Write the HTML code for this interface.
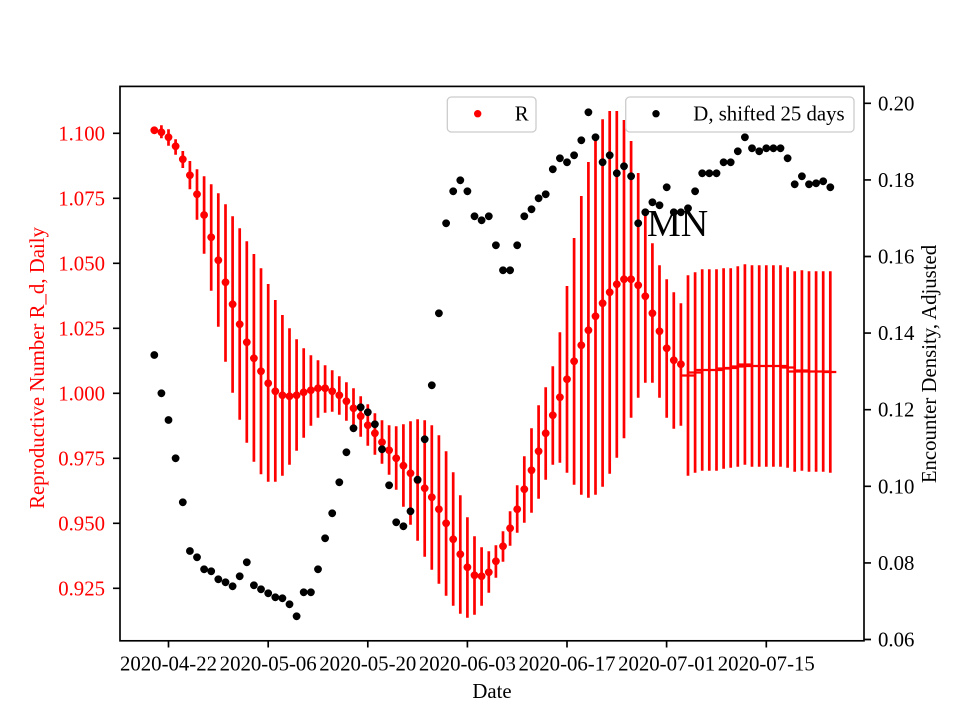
<!DOCTYPE html>
<html>
<head>
<meta charset="utf-8">
<style>
  html, body { margin: 0; padding: 0; background: #ffffff; }
  svg { display: block; }
  text { font-family: "Liberation Serif", "Times New Roman", serif; }
</style>
</head>
<body>
<svg width="960" height="720" viewBox="0 0 960 720" xmlns="http://www.w3.org/2000/svg">
  <rect x="0" y="0" width="960" height="720" fill="#ffffff"/>

  <path fill="none" stroke="#ff0000" stroke-width="2.7" d="M154.3 129V131.6 M161.4 125.3V138.3 M168.5 129.3V145.7 M175.6 139.3V154.7 M182.8 151V168 M189.9 161V189.3 M197 169.3V219.7 M204.1 176.3V253.7 M211.2 184.3V290.7 M218.3 193.3V326.7 M225.5 204.3V361.7 M232.6 216.3V392.7 M239.7 228.3V419.7 M246.8 241.3V442.7 M253.9 254V461.7 M261 268.3V474.3 M268.2 284V481.7 M275.3 300V481.7 M282.4 315V475.7 M289.5 328.3V464.7 M296.6 339.3V450.7 M303.7 348.3V437.7 M310.9 355.3V425.7 M318 360.3V417.7 M325.1 365.3V412.7 M332.2 370.3V411.7 M339.3 376.3V414.7 M346.4 382.3V420.7 M353.5 388.3V427.7 M360.7 396.3V436.7 M367.8 404.3V445.7 M374.9 413.3V454.7 M382 420.3V463.7 M389.1 425.3V474.7 M396.2 426.3V489.7 M403.4 424.3V506.7 M410.5 421.3V524.7 M417.6 419.3V540.7 M424.7 420.3V556.7 M431.8 425.3V569.7 M438.9 435.3V583.7 M446.1 451.3V595.7 M453.2 472.3V605.7 M460.3 495.3V613.7 M467.4 517.3V617.7 M474.5 536.3V614.7 M481.6 547.3V605.7 M488.8 551.3V592.7 M495.9 545.3V577.7 M503 531.3V561.7 M510.1 511.3V545.7 M517.2 485.3V532.7 M524.3 456.3V522.7 M531.5 428.3V512.7 M538.6 405.3V498.7 M545.7 387.3V479.7 M552.8 366.3V464.7 M559.9 332.3V462.7 M567 286V472.7 M574.1 238V484.7 M581.3 196V494.7 M588.4 162V497.7 M595.5 137.3V494.7 M602.6 119.3V486.7 M609.7 111V473.7 M616.8 111V457.7 M624 120V438.3 M631.1 141V417.7 M638.2 173V397.7 M645.3 210V382.7 M652.4 243.3V382.7 M659.5 265.3V397.7 M666.7 279.3V417.7 M673.8 292.3V428.7 M680.9 303.3V425.7 M688 275.3V475.7 M695.1 272.3V472.7 M702.2 269.3V470.7 M709.3 269.3V470.7 M716.5 269.3V470.7 M723.6 268.3V468.7 M730.7 268.3V467.7 M737.8 266.3V466.7 M744.9 264.3V464.7 M752 265.3V466.7 M759.2 265.3V466.7 M766.3 265.3V466.7 M773.4 265.3V466.7 M780.5 265.3V466.7 M787.6 267.3V467.7 M794.7 271.3V471.7 M801.9 270.3V470.7 M809 271.3V471.7 M816.1 271.3V471.7 M823.2 271.3V471.7 M830.3 271.3V472.7"/>

  <path fill="none" stroke="#ff0000" stroke-width="7.8" stroke-linecap="round" d="M154.3 130.3h.01 M161.4 132.3h.01 M168.5 137.3h.01 M175.6 146.3h.01 M182.8 159.3h.01 M189.9 175.3h.01 M197 194.3h.01 M204.1 215h.01 M211.2 237.3h.01 M218.3 260.3h.01 M225.5 282.3h.01 M232.6 304.3h.01 M239.7 324.3h.01 M246.8 342.3h.01 M253.9 358.3h.01 M261 371.3h.01 M268.2 383.3h.01 M275.3 391.3h.01 M282.4 395.3h.01 M289.5 396.3h.01 M296.6 395.3h.01 M303.7 392.3h.01 M310.9 390.3h.01 M318 388.3h.01 M325.1 388.3h.01 M332.2 391.3h.01 M339.3 395.3h.01 M346.4 401.3h.01 M353.5 408.3h.01 M360.7 416.3h.01 M367.8 425.3h.01 M374.9 433.3h.01 M382 442.3h.01 M389.1 450.3h.01 M396.2 458.3h.01 M403.4 465.7h.01 M410.5 473.3h.01 M417.6 480.3h.01 M424.7 488.3h.01 M431.8 497.3h.01 M438.9 509.3h.01 M446.1 523.3h.01 M453.2 539.3h.01 M460.3 554.3h.01 M467.4 567.3h.01 M474.5 575.3h.01 M481.6 576.3h.01 M488.8 572.3h.01 M495.9 561.3h.01 M503 546.3h.01 M510.1 528.3h.01 M517.2 509.3h.01 M524.3 489.3h.01 M531.5 470.3h.01 M538.6 451.3h.01 M545.7 433.3h.01 M552.8 415.3h.01 M559.9 397.3h.01 M567 379.3h.01 M574.1 361.3h.01 M581.3 345.3h.01 M588.4 330.3h.01 M595.5 316.3h.01 M602.6 303.3h.01 M609.7 292.3h.01 M616.8 284.3h.01 M624 279.3h.01 M631.1 279.3h.01 M638.2 285.3h.01 M645.3 296.3h.01 M652.4 313.3h.01 M659.5 331.3h.01 M666.7 348.3h.01 M673.8 360.3h.01 M680.9 364.3h.01"/>

  <path fill="none" stroke="#ff0000" stroke-width="2.2" d="M682 375.5H694 M689.1 372.5H701.1 M696.2 370H708.2 M703.3 370H715.3 M710.5 370H722.5 M717.6 368.5H729.6 M724.7 368H736.7 M731.8 366.5H743.8 M738.9 364.5H750.9 M746 366H758 M753.2 366H765.2 M760.3 366H772.3 M767.4 366H779.4 M774.5 366H786.5 M781.6 367.5H793.6 M788.7 371.5H800.7 M795.9 370.5H807.9 M803 371.5H815 M810.1 371.5H822.1 M817.2 371.5H829.2 M824.3 372H836.3"/>

  <text x="647" y="236" font-size="38" fill="#000000">MN</text>

  <rect x="447.3" y="97" width="88.7" height="35" rx="4" ry="4" fill="#ffffff" fill-opacity="0.8" stroke="#cccccc" stroke-width="1.3"/>
  <circle cx="477.7" cy="113.7" r="3.7" fill="#ff0000"/>
  <text x="514.7" y="120.5" font-size="20.8" fill="#000000">R</text>

  <path fill="none" stroke="#000000" stroke-width="7.8" stroke-linecap="round" d="M154.3 355h.01 M161.4 393.3h.01 M168.5 420h.01 M175.6 458.3h.01 M182.8 502.3h.01 M189.9 551h.01 M197 557.3h.01 M204.1 569.3h.01 M211.2 571.3h.01 M218.3 579.3h.01 M225.5 582.3h.01 M232.6 586.3h.01 M239.7 576.3h.01 M246.8 562.3h.01 M253.9 585.3h.01 M261 589.3h.01 M268.2 593.3h.01 M275.3 597.3h.01 M282.4 598.3h.01 M289.5 604.3h.01 M296.6 616.3h.01 M303.7 592.3h.01 M310.9 592.3h.01 M318 569.3h.01 M325.1 538.3h.01 M332.2 513.3h.01 M339.3 482.3h.01 M346.4 452.3h.01 M353.5 428.3h.01 M360.7 407.3h.01 M367.8 412.3h.01 M374.9 424.3h.01 M382 449.3h.01 M389.1 485.3h.01 M396.2 522.3h.01 M403.4 526.3h.01 M410.5 511.3h.01 M417.6 479.7h.01 M424.7 439.3h.01 M431.8 385.3h.01 M438.9 313.3h.01 M446.1 223.3h.01 M453.2 191.3h.01 M460.3 180.3h.01 M467.4 191.3h.01 M474.5 216.3h.01 M481.6 220.3h.01 M488.8 216.3h.01 M495.9 245.3h.01 M503 270.3h.01 M510.1 270.3h.01 M517.2 245.3h.01 M524.3 216.3h.01 M531.5 209.3h.01 M538.6 198.3h.01 M545.7 194.3h.01 M552.8 169.3h.01 M559.9 158.3h.01 M567 162.3h.01 M574.1 155.3h.01 M581.3 140.3h.01 M588.4 112.3h.01 M595.5 137.3h.01 M602.6 162.3h.01 M609.7 155.3h.01 M616.8 173.3h.01 M624 166.3h.01 M631.1 176.3h.01 M638.2 223.3h.01 M645.3 212.3h.01 M652.4 202.3h.01 M659.5 205.3h.01 M666.7 187.3h.01 M673.8 212.3h.01 M680.9 212.3h.01 M688 208.3h.01 M695.1 191.3h.01 M702.2 173.3h.01 M709.3 173.3h.01 M716.5 173.3h.01 M723.6 162.3h.01 M730.7 162.3h.01 M737.8 151.3h.01 M744.9 137.3h.01 M752 148.3h.01 M759.2 151.3h.01 M766.3 148.3h.01 M773.4 148.3h.01 M780.5 148.3h.01 M787.6 158.3h.01 M794.7 184.3h.01 M801.9 176.3h.01 M809 184.3h.01 M816.1 183.3h.01 M823.2 181.3h.01 M830.3 187.3h.01"/>

  <rect x="625.7" y="97" width="228.3" height="35" rx="4" ry="4" fill="#ffffff" fill-opacity="0.8" stroke="#cccccc" stroke-width="1.3"/>
  <circle cx="656" cy="113.7" r="3.7" fill="#000000"/>
  <text x="693.3" y="120.5" font-size="20.8" fill="#000000">D, shifted 25 days</text>

  <rect x="120" y="86.4" width="744" height="554.4" fill="none" stroke="#000000" stroke-width="1.67"/>

  <path stroke="#000000" stroke-width="1.67" fill="none" d="M113 133.3H120 M113 198.3H120 M113 263.3H120 M113 328.3H120 M113 393.3H120 M113 458.3H120 M113 523.3H120 M113 588.3H120"/>
  <g font-size="20.8" fill="#ff0000" text-anchor="end">
    <text x="105" y="140.3">1.100</text>
    <text x="105" y="205.3">1.075</text>
    <text x="105" y="270.3">1.050</text>
    <text x="105" y="335.3">1.025</text>
    <text x="105" y="400.3">1.000</text>
    <text x="105" y="465.3">0.975</text>
    <text x="105" y="530.3">0.950</text>
    <text x="105" y="595.3">0.925</text>
  </g>

  <path stroke="#000000" stroke-width="1.67" fill="none" d="M864 103.3H871 M864 179.9H871 M864 256.5H871 M864 333.1H871 M864 409.7H871 M864 486.3H871 M864 562.9H871 M864 639.5H871"/>
  <g font-size="20.8" fill="#000000">
    <text x="878" y="110.3">0.20</text>
    <text x="878" y="186.9">0.18</text>
    <text x="878" y="263.5">0.16</text>
    <text x="878" y="340.1">0.14</text>
    <text x="878" y="416.7">0.12</text>
    <text x="878" y="493.3">0.10</text>
    <text x="878" y="569.9">0.08</text>
    <text x="878" y="646.5">0.06</text>
  </g>

  <path stroke="#000000" stroke-width="1.67" fill="none" d="M168.5 641V647.5 M268.2 641V647.5 M367.8 641V647.5 M467.4 641V647.5 M567 641V647.5 M666.6 641V647.5 M766.3 641V647.5"/>
  <g font-size="20.8" fill="#000000" text-anchor="middle">
    <text x="168.5" y="670.7">2020-04-22</text>
    <text x="268.2" y="670.7">2020-05-06</text>
    <text x="367.8" y="670.7">2020-05-20</text>
    <text x="467.4" y="670.7">2020-06-03</text>
    <text x="567" y="670.7">2020-06-17</text>
    <text x="666.6" y="670.7">2020-07-01</text>
    <text x="766.3" y="670.7">2020-07-15</text>
  </g>

  <text x="492" y="698" font-size="20.8" fill="#000000" text-anchor="middle">Date</text>
  <text transform="translate(44,368) rotate(-90)" font-size="20.8" fill="#ff0000" text-anchor="middle">Reproductive Number R_d, Daily</text>
  <text transform="translate(936,364) rotate(-90)" font-size="20.8" fill="#000000" text-anchor="middle">Encounter Density, Adjusted</text>
</svg>
</body>
</html>
